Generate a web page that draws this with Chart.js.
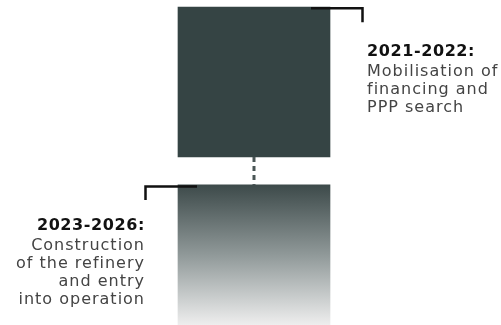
<!DOCTYPE html>
<html>
<head>
<meta charset="utf-8">
<style>
  html, body { margin: 0; padding: 0; background: #fff; }
  #wrap { width: 501px; height: 325px; position: relative; }
</style>
</head>
<body>
<div id="wrap"><canvas id="chart"></canvas></div>
<script src="https://cdn.jsdelivr.net/npm/chart.js@4/dist/chart.umd.min.js"></script>
<script>
// Fases do cronograma (escala vertical arbitraria 0-100, topo = mais antigo)
const phaseTitles = ['2021-2022:', '2023-2026:']
const phaseLines = [
  ['Mobilisation of', 'financing and', 'PPP search'],
  ['Construction', 'of the refinery', 'and entry', 'into operation']
]
const phaseStart = [51.7, 0]
const phaseEnd = [97.8, 43.1]

const DARK = '#354444'

// Desenha conector tracejado, cantoneiras e textos
const timelinePlugin = {
  id: 'timeline',
  afterDatasetsDraw(chart) {
    const ctx = chart.ctx
    const top = chart.getDatasetMeta(0).data[0]
    const bottom = chart.getDatasetMeta(1).data[0]
    const half = top.width / 2
    const left = top.x - half
    const right = top.x + half

    ctx.save()

    // conector tracejado
    ctx.strokeStyle = '#4a5656'
    ctx.lineWidth = 3
    ctx.setLineDash([5, 4])
    ctx.beginPath()
    ctx.moveTo(top.x, top.base)
    ctx.lineTo(top.x, bottom.y)
    ctx.stroke()
    ctx.setLineDash([])

    // cantoneiras
    ctx.strokeStyle = '#111'
    ctx.lineWidth = 2.5
    ctx.beginPath()
    ctx.moveTo(right - 19, top.y + 1.2)
    ctx.lineTo(right + 32.5, top.y + 1.2)
    ctx.lineTo(right + 32.5, top.y + 15)
    ctx.stroke()

    ctx.beginPath()
    ctx.moveTo(left + 19, bottom.y + 1.5)
    ctx.lineTo(left - 32.5, bottom.y + 1.5)
    ctx.lineTo(left - 32.5, bottom.y + 15)
    ctx.stroke()

    // textos
    const drawBlock = (title, lines, x, y, align) => {
      ctx.textAlign = align
      ctx.textBaseline = 'alphabetic'
      ctx.fillStyle = '#111'
      ctx.letterSpacing = '0.6px'
      ctx.font = 'bold 16px "DejaVu Sans"'
      ctx.fillText(title, x, y)
      ctx.fillStyle = '#444'
      ctx.letterSpacing = '1px'
      ctx.font = '16px "DejaVu Sans"'
      lines.forEach((l, i) => ctx.fillText(l, x, y + 20 + i * 18))
    }
    drawBlock(phaseTitles[0], phaseLines[0], right + 37, top.y + 48.5, 'left')
    drawBlock(phaseTitles[1], phaseLines[1], left - 33, bottom.y + 45, 'right')

    ctx.restore()
  }
}

const chart = new Chart(document.getElementById('chart'), {
  type: 'bar',
  data: {
    labels: ['timeline'],
    datasets: [
      {
        label: phaseTitles[0],
        data: [[phaseStart[0], phaseEnd[0]]],
        backgroundColor: DARK
      },
      {
        label: phaseTitles[1],
        data: [[phaseStart[1], phaseEnd[1]]],
        backgroundColor: (c) => {
          const area = c.chart.chartArea
          if (!area) return DARK
          const y = c.chart.scales.y
          const g = c.chart.ctx.createLinearGradient(0, y.getPixelForValue(phaseEnd[1]), 0, y.getPixelForValue(phaseStart[1]))
          g.addColorStop(0, '#3d4a4a')
          g.addColorStop(0.5, '#909999')
          g.addColorStop(1, '#eeeeee')
          return g
        }
      }
    ]
  },
  options: {
    responsive: true,
    maintainAspectRatio: false,
    animation: false,
    layout: { padding: { left: 7 } },
    datasets: {
      bar: { grouped: false, barThickness: 152, borderWidth: 0, borderSkipped: false }
    },
    plugins: {
      legend: { display: false },
      tooltip: { enabled: false }
    },
    scales: {
      x: { display: false },
      y: { display: false, min: 0, max: 100 }
    }
  },
  plugins: [timelinePlugin]
})
</script>
</body>
</html>
